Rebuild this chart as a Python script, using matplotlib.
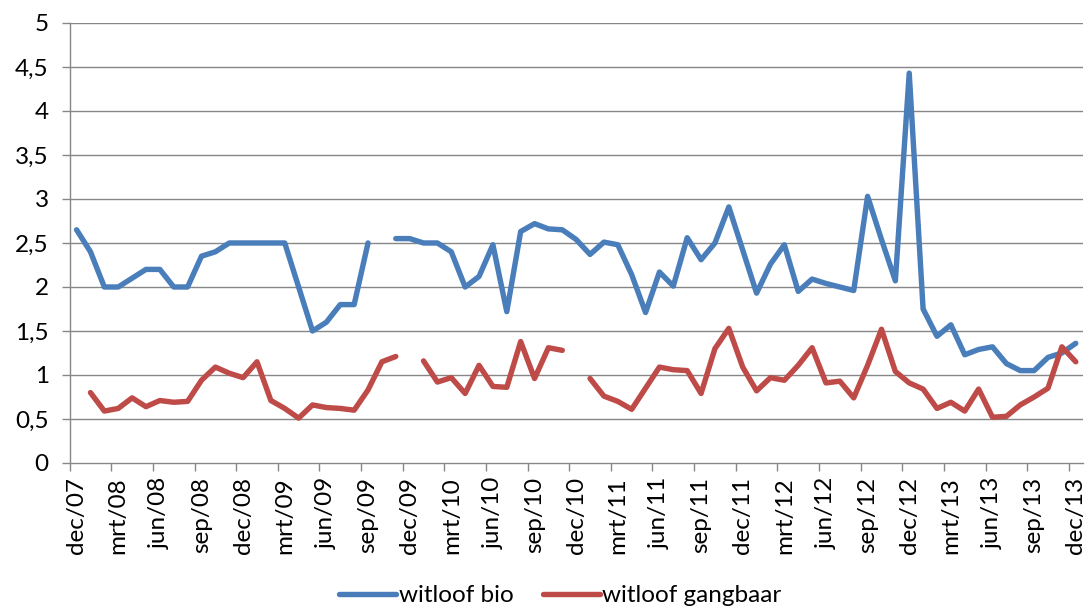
import numpy as np
import matplotlib
matplotlib.use("Agg")
import matplotlib.pyplot as plt

nan = np.nan
months = ["dec", "jan", "feb", "mrt", "apr", "mei", "jun", "jul", "aug", "sep", "okt", "nov"]
# monthly categories dec/07 .. dec/13
categories = []
yr = 7
for k in range(73):
    m = months[k % 12]
    if m == "jan":
        yr += 1
    categories.append(f"{m}/{yr:02d}")

witloof_bio = [2.65, 2.4, 2.0, 2.0, 2.1, 2.2, 2.2, 2.0, 2.0, 2.35, 2.4, 2.5,
               2.5, 2.5, 2.5, 2.5, 2.0, 1.5, 1.6, 1.8, 1.8, 2.5, nan, 2.55,
               2.55, 2.5, 2.5, 2.4, 2.0, 2.12, 2.48, 1.72, 2.63, 2.72, 2.66, 2.65,
               2.54, 2.37, 2.51, 2.48, 2.14, 1.71, 2.17, 2.01, 2.56, 2.31, 2.5, 2.91,
               2.42, 1.93, 2.26, 2.48, 1.95, 2.09, 2.04, 2.0, 1.96, 3.03, 2.54, 2.07,
               4.43, 1.75, 1.44, 1.57, 1.23, 1.29, 1.32, 1.13, 1.05, 1.05, 1.2, 1.25,
               1.36]
witloof_gangbaar = [nan, 0.8, 0.59, 0.62, 0.74, 0.64, 0.71, 0.69, 0.7, 0.94, 1.09, 1.02,
                    0.97, 1.15, 0.71, 0.62, 0.51, 0.66, 0.63, 0.62, 0.6, 0.83, 1.15, 1.21,
                    nan, 1.16, 0.92, 0.97, 0.79, 1.11, 0.87, 0.86, 1.38, 0.96, 1.31, 1.28,
                    nan, 0.96, 0.76, 0.7, 0.61, 0.85, 1.09, 1.06, 1.05, 0.79, 1.3, 1.53,
                    1.09, 0.82, 0.97, 0.94, 1.11, 1.31, 0.91, 0.93, 0.74, 1.11, 1.52, 1.04,
                    0.91, 0.84, 0.62, 0.69, 0.59, 0.84, 0.52, 0.53, 0.66, 0.75, 0.85, 1.32,
                    1.15]
y_ticks = [0, 0.5, 1, 1.5, 2, 2.5, 3, 3.5, 4, 4.5, 5]

plt.rcParams['font.family'] = ['Lato', 'DejaVu Sans']
FS = 17.5
fig = plt.figure(figsize=(10.9, 6.1), dpi=100)
ax = fig.add_axes([0.0639, 0.241, 0.9294, 0.7213])

x = np.arange(len(categories))
blue = "#4A7EBB"
red = "#BE4B48"
ax.plot(x, witloof_bio, color=blue, lw=3.9, solid_joinstyle='round',
        solid_capstyle='round', label="witloof bio", zorder=3)
ax.plot(x, witloof_gangbaar, color=red, lw=3.9, solid_joinstyle='round',
        solid_capstyle='round', label="witloof gangbaar", zorder=3)

ax.set_xlim(-0.5, len(categories) - 0.5)
ax.set_ylim(0, 5)

grid_c = "#878787"
ax.set_yticks(y_ticks)
ax.set_yticklabels([f"{v:g}".replace(".", ",") for v in y_ticks], fontsize=FS)
for v in y_ticks[1:]:
    ax.axhline(v, color=grid_c, lw=1.0, zorder=1)

# tick marks at category boundaries, labels at category centres
ax.set_xticks(np.arange(-0.5, len(categories) - 1, 3))
ax.set_xticklabels([])
ax.set_xticks(np.arange(0, len(categories), 3), minor=True)
ax.set_xticklabels([categories[i] for i in range(0, len(categories), 3)],
                   minor=True, rotation=90, fontsize=FS)
ax.tick_params(axis='x', which='major', length=6, width=1.0, color=grid_c)
ax.tick_params(axis='x', which='minor', length=0, pad=10)
ax.tick_params(axis='y', length=6, width=1.0, color=grid_c, pad=9)

for s in ["top", "right"]:
    ax.spines[s].set_visible(False)
for s in ["left", "bottom"]:
    ax.spines[s].set_color(grid_c)
    ax.spines[s].set_linewidth(1.0)

fig.legend(loc='lower center', bbox_to_anchor=(0.514, -0.03), ncol=2,
           frameon=False, fontsize=FS, handlelength=2.35, handletextpad=0.1,
           columnspacing=1.2)

fig.savefig("out.png", dpi=100)
